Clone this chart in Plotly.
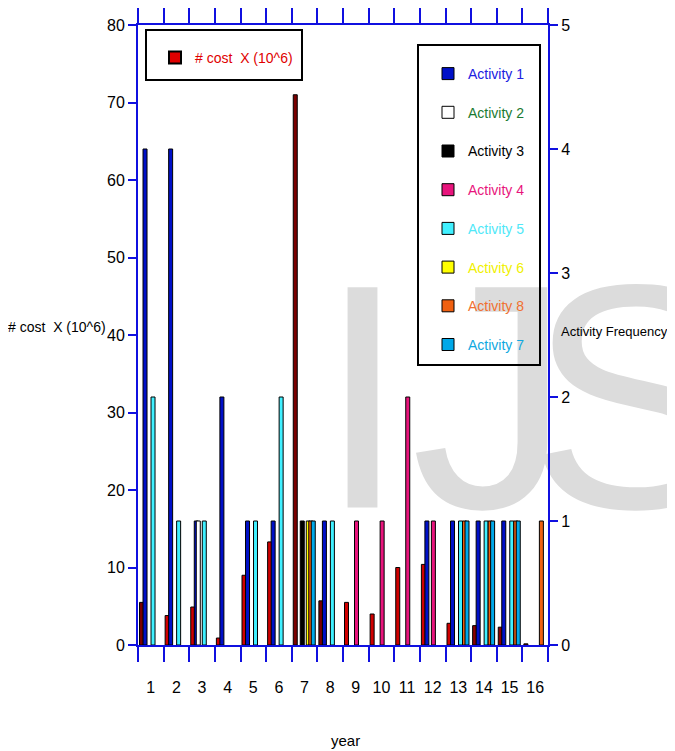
import plotly.graph_objects as go

# ---------------- data ----------------
years = [str(i) for i in range(1, 17)]
cost = [5.5, 3.8, 4.9, 0.9, 9.0, 13.3, 71.0, 5.7, 5.5, 4.0, 10.0, 10.4, 2.8, 2.5, 2.3, 0.15]

act1 = [4, 4, 1, 2, 1, 1, None, 1, None, None, None, 1, 1, 1, 1, None]
act2 = [None, None, 1, None, None, None, None, None, None, None, None, None, None, None, None, None]
act3 = [None, None, None, None, None, None, 1, None, None, None, None, None, None, None, None, None]
act4 = [None, None, None, None, None, None, None, None, 1, 1, 2, 1, None, None, None, None]
act5 = [2, 1, 1, None, 1, 2, None, 1, None, None, None, None, 1, 1, 1, None]
act6 = [None, None, None, None, None, None, 1, None, None, None, None, None, None, None, None, None]
act8 = [None, None, None, None, None, None, 1, None, None, None, None, None, 1, 1, 1, 1]
act7 = [None, None, None, None, None, None, 1, None, None, None, None, None, 1, 1, 1, None]

# ---------------- style ----------------
FONT = "Liberation Sans Narrow, Arial Narrow, Liberation Sans, Arial, sans-serif"
BLUE = "#1010e0"
cost_colors = ["#7a0000", "#d00000", "#d00000", "#d00000", "#d00000", "#d00000",
               "#7a0000", "#7a0000", "#d00000", "#d00000", "#d00000", "#d00000",
               "#d00000", "#8a0000", "#8a0000", "#8a0000"]

W = 0.156  # bar width in category units

# The page body has an 8px margin, so the figure is 8px smaller than the window
OFF = 8
FW, FH = 675 - OFF, 751 - OFF
# plot area in screen pixels
L, R, T, B = 138, 548, 25, 645
def px(x):
    return (x - L) / (R - L)
def py(y):
    return (B - y) / (B - T)

fig = go.Figure()

fig.add_trace(go.Bar(
    x=years, y=cost, yaxis="y", width=W, offset=-0.441,
    marker=dict(color=cost_colors, line=dict(color="black", width=1)),
    name="cost", legend="legend", legendgroup="cost", showlegend=False,
))
# legend-only proxy for the cost series (pure red swatch)
fig.add_trace(go.Bar(
    x=[None], y=[None], yaxis="y",
    marker=dict(color="#e00000", line=dict(color="black", width=2)),
    name="<span style='color:#e00000'># cost  X (10^6)</span>",
    legend="legend", legendgroup="cost",
))

acts = [
    ("Activity 1", act1, "#0010c8", "#2020e0", -0.304),
    ("Activity 2", act2, "#ffffff", "#1a7a30", -0.226),
    ("Activity 3", act3, "#000000", "#000000", -0.168),
    ("Activity 4", act4, "#e8147c", "#e8147c", -0.051),
    ("Activity 5", act5, "#40f0ff", "#50e8f8", 0.008),
    ("Activity 6", act6, "#ffff00", "#f0f000", 0.066),
    ("Activity 8", act8, "#f06010", "#f07030", 0.164),
    ("Activity 7", act7, "#00a8e8", "#10a8e0", 0.261),
]
for name, vals, col, tcol, off in acts:
    fig.add_trace(go.Bar(
        x=years, y=vals, yaxis="y2", width=W, offset=off,
        marker=dict(color=col, line=dict(color="black", width=1)),
        name=f"<span style='color:{tcol}'>{name}</span>",
        legend="legend2", legendgroup=name,
    ))

axis_common = dict(showline=True, linecolor=BLUE, linewidth=2, ticks="outside",
                   tickcolor=BLUE, tickwidth=1.5, showgrid=False, zeroline=False,
                   automargin=False,
                   tickfont=dict(family=FONT, size=16, color="black"))

fig.update_layout(
    width=FW, height=FH,
    margin=dict(l=L - OFF, r=FW - (R - OFF), t=T - OFF, b=FH - (B - OFF), autoexpand=False),
    paper_bgcolor="white", plot_bgcolor="white",
    barmode="overlay",
    font=dict(family=FONT, size=14, color="black"),
    xaxis=dict(type="category", range=[-0.5, 15.5], tickson="boundaries",
               ticklen=15, mirror="ticks", ticklabelstandoff=27, tickangle=0,
               **axis_common),
    yaxis=dict(range=[0, 80], dtick=10, ticklen=8, **axis_common),
    yaxis2=dict(range=[0, 5], dtick=1, ticklen=8, overlaying="y", side="right",
                **axis_common),
    legend=dict(x=px(155), y=py(42), xanchor="left", yanchor="top",
                bgcolor="rgba(0,0,0,0)", borderwidth=0,
                font=dict(family=FONT, size=14)),
    legend2=dict(x=px(428), y=py(58), xanchor="left", yanchor="top",
                 bgcolor="rgba(0,0,0,0)", borderwidth=0,
                 traceorder="grouped", tracegroupgap=17.5,
                 font=dict(family=FONT, size=14)),
    showlegend=True,
)

shapes = []
# watermark letters (drawn under the bars)
for letter, x0, x1 in [("I", 344, 381), ("J", 431, 551), ("S", 552, 717)]:
    shapes.append(dict(type="rect", xref="paper", yref="paper",
                       x0=px(x0), x1=px(x1), y0=py(484), y1=py(249),
                       line=dict(width=0), fillcolor="rgba(0,0,0,0)", layer="below",
                       label=dict(text=letter, textposition="middle center",
                                  font=dict(family="Liberation Sans, Arial", size=320,
                                            color="#dcdcdc"))))
# legend frames
shapes.append(dict(type="rect", xref="paper", yref="paper",
                   x0=px(146), x1=px(302), y0=py(80), y1=py(30),
                   line=dict(color="black", width=2), fillcolor="white", layer="above"))
shapes.append(dict(type="rect", xref="paper", yref="paper",
                   x0=px(418), x1=px(540), y0=py(365), y1=py(45),
                   line=dict(color="black", width=2), fillcolor="rgba(0,0,0,0)", layer="above"))
fig.update_layout(shapes=shapes)

fig.add_annotation(text="# cost  X (10^6)", xref="paper", yref="paper",
                   x=px(57), y=py(327), xanchor="center", yanchor="middle", showarrow=False,
                   font=dict(family=FONT, size=14, color="black"))
fig.add_annotation(text="Activity Frequency", xref="paper", yref="paper",
                   x=px(614), y=py(331), xanchor="center", yanchor="middle", showarrow=False,
                   font=dict(family=FONT, size=13, color="black"))
fig.add_annotation(text="year", xref="paper", yref="paper",
                   x=px(345), y=py(740), xanchor="center", yanchor="middle", showarrow=False,
                   font=dict(family=FONT, size=15, color="black"))

fig.write_html("out.html")
